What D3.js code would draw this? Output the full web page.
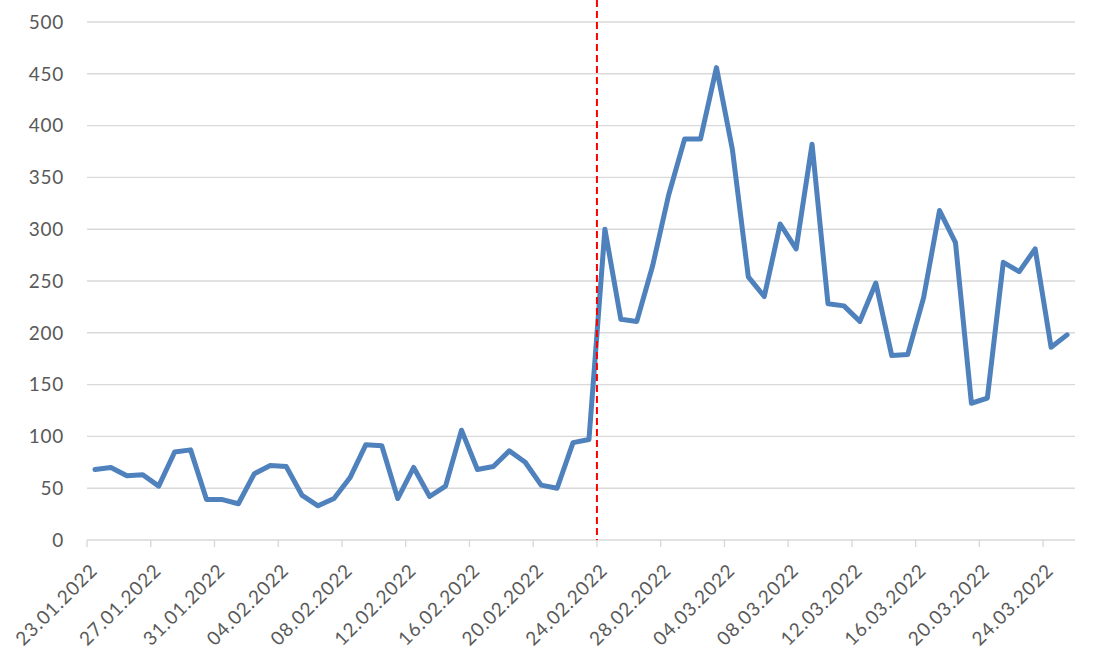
<!DOCTYPE html>
<html>
<head>
<meta charset="utf-8">
<script src="https://cdnjs.cloudflare.com/ajax/libs/d3/7.8.5/d3.min.js"></script>
<style>
  html, body { margin: 0; padding: 0; background: #ffffff; }
  svg { display: block; }
  text { font-family: Lato, "Open Sans", sans-serif; fill: #595959; }
</style>
</head>
<body>
<svg id="chart" width="1093" height="659"></svg>
<script>
const dates = [
  "23.01.2022","24.01.2022","25.01.2022","26.01.2022","27.01.2022","28.01.2022","29.01.2022","30.01.2022","31.01.2022",
  "01.02.2022","02.02.2022","03.02.2022","04.02.2022","05.02.2022","06.02.2022","07.02.2022","08.02.2022","09.02.2022",
  "10.02.2022","11.02.2022","12.02.2022","13.02.2022","14.02.2022","15.02.2022","16.02.2022","17.02.2022","18.02.2022",
  "19.02.2022","20.02.2022","21.02.2022","22.02.2022","23.02.2022","24.02.2022","25.02.2022","26.02.2022","27.02.2022",
  "28.02.2022","01.03.2022","02.03.2022","03.03.2022","04.03.2022","05.03.2022","06.03.2022","07.03.2022","08.03.2022",
  "09.03.2022","10.03.2022","11.03.2022","12.03.2022","13.03.2022","14.03.2022","15.03.2022","16.03.2022","17.03.2022",
  "18.03.2022","19.03.2022","20.03.2022","21.03.2022","22.03.2022","23.03.2022","24.03.2022","25.03.2022"
];
const values = [
  68, 70, 62, 63, 52, 85, 87, 39, 39,
  35, 64, 72, 71, 43, 33, 40, 60, 92,
  91, 40, 70, 42, 52, 106, 68, 71, 86,
  75, 53, 50, 94, 97, 300, 213, 211, 265,
  333, 387, 387, 456, 377, 254, 235, 305, 281,
  382, 228, 226, 211, 248, 178, 179, 234, 318,
  287, 132, 137, 268, 259, 281, 186, 198
];
const xTickLabels = [
  "23.01.2022","27.01.2022","31.01.2022","04.02.2022","08.02.2022","12.02.2022","16.02.2022","20.02.2022",
  "24.02.2022","28.02.2022","04.03.2022","08.03.2022","12.03.2022","16.03.2022","20.03.2022","24.03.2022"
];
const yTicks = [0, 50, 100, 150, 200, 250, 300, 350, 400, 450, 500];
const markerDate = "24.02.2022";

const svg = d3.select("#chart");
const plotLeft = 87, plotRight = 1075, plotTop = 22, plotBottom = 540;

const x = d3.scaleBand().domain(dates).range([plotLeft, plotRight]).padding(0);
const y = d3.scaleLinear().domain([0, 500]).range([plotBottom, plotTop]);
const bw = x.bandwidth();

// gridlines
svg.append("g").selectAll("line").data(yTicks).join("line")
  .attr("x1", plotLeft).attr("x2", plotRight)
  .attr("y1", d => y(d)).attr("y2", d => y(d))
  .attr("stroke", "#d9d9d9").attr("stroke-width", 1.4);

// y labels
svg.append("g").selectAll("text").data(yTicks).join("text")
  .attr("x", 64).attr("y", d => y(d)).attr("dy", "0.36em")
  .attr("text-anchor", "end")
  .style("font-size", "19px").style("letter-spacing", "0.7px")
  .text(d => d);

// x ticks
svg.append("g").selectAll("line").data(xTickLabels).join("line")
  .attr("x1", d => x(d)).attr("x2", d => x(d))
  .attr("y1", plotBottom).attr("y2", plotBottom + 7)
  .attr("stroke", "#d9d9d9").attr("stroke-width", 1.4);

// x labels
svg.append("g").selectAll("text").data(xTickLabels).join("text")
  .attr("transform", d => `translate(${x(d) + bw / 2 - 1},${plotBottom + 27}) rotate(-45)`)
  .attr("dy", "0.35em")
  .attr("text-anchor", "end")
  .style("font-size", "19px").style("letter-spacing", "0.9px")
  .text(d => d);

// series line
const line = d3.line()
  .x((d, i) => x(dates[i]) + bw / 2)
  .y(d => y(d));
svg.append("path").datum(values)
  .attr("d", line)
  .attr("fill", "none")
  .attr("stroke", "#4f81bd")
  .attr("stroke-width", 5)
  .attr("stroke-linejoin", "round")
  .attr("stroke-linecap", "round");

// marker line
svg.append("line")
  .attr("x1", x(markerDate)).attr("x2", x(markerDate))
  .attr("y1", 0).attr("y2", plotBottom)
  .attr("stroke", "#ff0000").attr("stroke-width", 2)
  .attr("stroke-dasharray", "7,4");
</script>
</body>
</html>
